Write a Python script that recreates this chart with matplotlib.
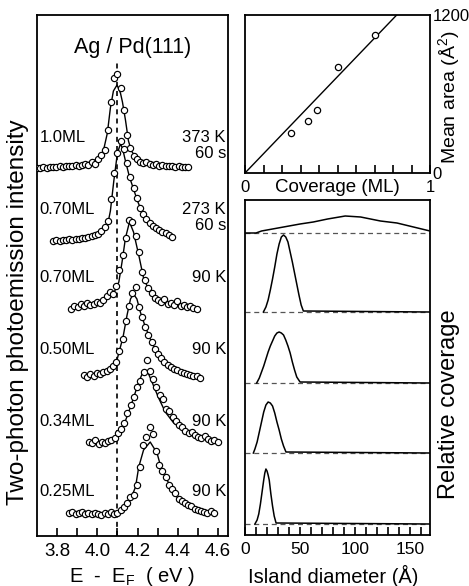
import numpy as np
import matplotlib.pyplot as plt

plt.rcParams['font.family'] = ['Liberation Sans', 'DejaVu Sans']
plt.rcParams['mathtext.fontset'] = 'custom'
plt.rcParams['mathtext.rm'] = 'Liberation Sans'
plt.rcParams['mathtext.it'] = 'Liberation Sans:italic'

# ---- 2PPE spectra (energy in eV, intensity in arb. units above each baseline)
e1 = [3.700, 3.716, 3.732, 3.748, 3.764, 3.780, 3.796, 3.812, 3.828, 3.844, 3.860, 3.876,
      3.892, 3.908, 3.924, 3.940, 3.956, 3.972, 3.988, 4.004, 4.020, 4.036, 4.052, 4.068,
      4.084, 4.100, 4.116, 4.132, 4.148, 4.164, 4.180, 4.196, 4.212, 4.228, 4.244, 4.260,
      4.276, 4.292, 4.308, 4.324, 4.340, 4.356, 4.372, 4.388, 4.404, 4.420, 4.436, 4.452]
i1 = [0, 0, 1, 0, 1, 1, 1, 2, 1, 2, 2, 2, 3, 2, 3, 4, 3, 6, 4, 9, 13, 18, 38, 66,
      90, 94, 80, 58, 33, 20, 12, 9, 6, 5, 6, 4, 3, 4, 2, 3, 2, 2, 2, 1, 2, 1, 1, 1]
fe1 = [3.70, 3.80, 3.90, 3.95, 4.00, 4.03, 4.05, 4.065, 4.08, 4.098, 4.115, 4.125, 4.14,
       4.155, 4.17, 4.19, 4.23, 4.30, 4.37, 4.46]
fi1 = [0, 1, 3, 5, 9, 17, 35, 60, 77, 83, 75, 66, 48, 27, 17, 11, 5, 3, 2, 1]

e2 = [3.780, 3.796, 3.812, 3.828, 3.844, 3.860, 3.876, 3.892, 3.908, 3.924, 3.940, 3.956,
      3.972, 3.988, 4.004, 4.020, 4.036, 4.052, 4.068, 4.084, 4.100, 4.116, 4.132, 4.148,
      4.164, 4.180, 4.196, 4.212, 4.228, 4.244, 4.260, 4.276, 4.292, 4.308, 4.324, 4.340,
      4.356, 4.372]
i2 = [0, 1, 0, 1, 1, 2, 1, 2, 2, 3, 3, 4, 5, 6, 7, 10, 14, 20, 42, 68, 88, 100, 92, 78,
      64, 53, 43, 33, 27, 22, 18, 15, 13, 11, 9, 8, 6, 4]
fe2 = [3.78, 3.87, 3.95, 4.00, 4.03, 4.05, 4.065, 4.082, 4.10, 4.115, 4.125, 4.14, 4.16,
       4.18, 4.20, 4.214, 4.25, 4.30, 4.36, 4.38]
fi2 = [0, 2, 4, 7, 11, 15, 30, 60, 88, 97, 93, 80, 64, 52, 40, 33, 21, 12, 5, 4]

e3 = [3.870, 3.886, 3.902, 3.918, 3.934, 3.950, 3.966, 3.982, 3.998, 4.014, 4.030, 4.046,
      4.062, 4.078, 4.094, 4.110, 4.126, 4.142, 4.158, 4.174, 4.190, 4.206, 4.222, 4.238,
      4.254, 4.270, 4.286, 4.302, 4.318, 4.334, 4.350, 4.366, 4.382, 4.398, 4.414, 4.430,
      4.446, 4.462, 4.478, 4.494]
i3 = [1, 4, 3, 6, 4, 7, 5, 6, 8, 7, 10, 14, 18, 16, 24, 40, 55, 72, 90, 88, 74, 58, 38, 30,
      22, 17, 12, 10, 8, 11, 6, 7, 5, 9, 4, 5, 3, 4, 2, 1]
fe3 = [3.867, 3.95, 4.033, 4.082, 4.107, 4.123, 4.14, 4.16, 4.18, 4.206, 4.23, 4.263,
       4.313, 4.396, 4.495]
fi3 = [0, 5, 10, 17, 28, 48, 72, 88, 78, 55, 32, 17, 8, 5, 0]

e4 = [3.934, 3.950, 3.966, 3.982, 3.998, 4.014, 4.030, 4.046, 4.062, 4.078, 4.094, 4.110,
      4.126, 4.142, 4.158, 4.174, 4.190, 4.206, 4.222, 4.238, 4.254, 4.270, 4.286, 4.302,
      4.318, 4.334, 4.350, 4.366, 4.382, 4.398, 4.414, 4.430, 4.446, 4.462, 4.478, 4.494,
      4.510]
i4 = [4, 2, 5, 3, 6, 5, 7, 8, 10, 13, 17, 28, 40, 58, 73, 86, 92, 72, 62, 52, 44, 37, 30,
      25, 21, 17, 14, 12, 10, 9, 7, 6, 5, 4, 3, 3, 1]
fe4 = [3.934, 4.033, 4.082, 4.095, 4.107, 4.128, 4.148, 4.165, 4.18, 4.197, 4.214, 4.239,
       4.272, 4.305, 4.346, 4.396, 4.461, 4.52]
fi4 = [3, 7, 14, 17, 26, 42, 64, 80, 85, 80, 67, 52, 36, 24, 14, 9, 4, 1]

e5 = [3.958, 3.974, 3.990, 4.006, 4.022, 4.038, 4.054, 4.070, 4.086, 4.102, 4.118, 4.134,
      4.150, 4.166, 4.182, 4.198, 4.214, 4.230, 4.246, 4.262, 4.278, 4.294, 4.310, 4.326,
      4.342, 4.358, 4.374, 4.390, 4.406, 4.422, 4.438, 4.454, 4.470, 4.486, 4.502, 4.518,
      4.534, 4.550, 4.566, 4.582, 4.598]
i5 = [3, 2, 5, 1, 3, 2, 4, 5, 7, 12, 16, 22, 32, 40, 48, 58, 64, 73, 85, 74, 66, 58, 50,
      46, 36, 34, 28, 24, 20, 18, 14, 12, 13, 10, 8, 7, 9, 6, 4, 5, 3]
fe5 = [3.958, 4.05, 4.082, 4.107, 4.132, 4.156, 4.18, 4.206, 4.225, 4.239, 4.255, 4.272,
       4.305, 4.338, 4.38, 4.445, 4.528, 4.61]
fi5 = [2, 4, 7, 12, 20, 33, 47, 63, 72, 75, 71, 63, 47, 33, 22, 13, 7, 2]

e6 = [3.860, 3.876, 3.892, 3.908, 3.924, 3.940, 3.956, 3.972, 3.988, 4.004, 4.020, 4.036,
      4.052, 4.068, 4.084, 4.100, 4.116, 4.132, 4.148, 4.164, 4.180, 4.196, 4.212, 4.228,
      4.244, 4.260, 4.276, 4.292, 4.308, 4.324, 4.340, 4.356, 4.372, 4.388, 4.404, 4.420,
      4.436, 4.452, 4.468, 4.484, 4.500, 4.516, 4.532, 4.548, 4.564, 4.580]
i6 = [2, 3, 1, 2, 3, 1, 2, 1, 2, 1, 0, 2, 1, 3, 1, 2, 5, 8, 12, 18, 20, 30, 48, 70, 78,
      88, 81, 64, 50, 44, 38, 30, 26, 22, 16, 14, 12, 10, 9, 6, 5, 4, 3, 2, 4, 2]
fe6 = [3.86, 4.00, 4.10, 4.132, 4.164, 4.19, 4.206, 4.23, 4.263, 4.297, 4.32, 4.355,
       4.396, 4.445, 4.528, 4.594]
fi6 = [1, 0, 2, 7, 15, 28, 48, 65, 73, 62, 45, 32, 18, 10, 4, 1]

energies = [e1, e2, e3, e4, e5, e6]
intens = [i1, i2, i3, i4, i5, i6]
fit_e = [fe1, fe2, fe3, fe4, fe5, fe6]
fit_i = [fi1, fi2, fi3, fi4, fi5, fi6]
offsets = [368, 295, 226, 157, 91, 21]
coverage_labels = ['1.0ML', '0.70ML', '0.70ML', '0.50ML', '0.34ML', '0.25ML']
temp_labels = ['373 K', '273 K', '90 K', '90 K', '90 K', '90 K']
time_labels = ['60 s', '60 s', '', '', '', '']
label_y = [399, 326, 258, 186, 114, 44]

# ---- mean island area vs coverage
cov = [0.25, 0.34, 0.39, 0.50, 0.70]
area = [301, 397, 476, 807, 1050]
fit_cov = [0.0, 0.82]
fit_area = [0, 1200]

# ---- island size distributions (diameter in A, relative coverage)
d1 = [0, 10, 15, 30, 50, 62, 75, 91, 105, 123, 138, 168]
c1 = [0, 0, 2, 5, 9, 11, 14, 17, 16, 12, 10, 2]
d2 = [16.7, 19, 21, 23, 25, 27, 29, 31, 33, 35, 37, 39, 41, 43, 45, 47, 49, 51, 53, 168]
c2 = [0, 5, 12, 22, 33, 45, 58, 68, 75, 77, 75, 70, 60, 50, 39, 28, 17, 7, 1, 0]
d3 = [10.6, 13, 15, 17, 19, 21, 23, 25, 27, 29, 31, 33, 35, 37, 39, 41, 43, 45, 47, 50, 168]
c3 = [0, 5, 11, 17, 24, 31, 37, 42, 47, 50, 51, 50, 48, 43, 37, 30, 21, 13, 6, 1, 0]
d4 = [7.6, 9, 11, 13, 15, 17, 19, 21, 23, 25, 27, 29, 31, 33, 35, 37.2, 168]
c4 = [0, 4, 11, 21, 31, 41, 48, 51, 50, 47, 40, 31, 23, 14, 7, 1, 0]
d5 = [9, 11, 12.5, 14, 15.5, 17, 18, 19, 20, 21, 22, 23.5, 25, 26.5, 28.2, 168]
c5 = [0, 4, 10, 20, 32, 44, 51, 55, 53, 49, 44, 30, 18, 8, 1, 0]
diam = [d1, d2, d3, d4, d5]
rel = [c1, c2, c3, c4, c5]
dist_offsets = [302, 223, 152, 82, 11]

W, H = 469, 586
fig = plt.figure(figsize=(W / 100, H / 100), dpi=100)


def box(x0, y0, x1, y1):
    # pixel box (top-left origin) -> figure axes
    return fig.add_axes([x0 / W, 1 - y1 / H, (x1 - x0) / W, (y1 - y0) / H])


# ---------- left panel: spectra
ax = box(37, 15, 228, 536)
for e, i, fe, fi, off in zip(energies, intens, fit_e, fit_i, offsets):
    ax.plot(fe, np.array(fi) + off, color='black', lw=1.0, zorder=2)
    ax.plot(e, np.array(i) + off, 'o', ms=4.5, mfc='white', mec='black', mew=0.85, zorder=3)
ax.plot([4.10, 4.10], [0, 474], color='black', lw=1.2, ls=(0, (3, 2.5)), zorder=1)
for cl, tl, sl, y in zip(coverage_labels, temp_labels, time_labels, label_y):
    ax.text(3.712, y, cl, fontsize=12, ha='left', va='center')
    ax.text(4.64, y, tl, fontsize=12, ha='right', va='center')
    if sl:
        ax.text(4.64, y - 16, sl, fontsize=12, ha='right', va='center')
ax.text(4.175, 489, 'Ag / Pd(111)', fontsize=15.5, ha='center', va='center')
ax.set_xlim(3.70, 4.65)
ax.set_ylim(0, 521)
ax.set_xticks([3.8, 4.0, 4.2, 4.4, 4.6])
ax.set_xticks(np.arange(3.8, 4.61, 0.1), minor=True)
ax.set_xticklabels(['3.8', '4.0', '4.2', '4.4', '4.6'], fontsize=13.5)
ax.tick_params(axis='x', which='both', direction='in', length=6, width=1.2, pad=5)
ax.set_yticks([])
for s in ax.spines.values():
    s.set_linewidth(1.3)

# ---------- right top: mean area
ax2 = box(245, 15, 430, 173)
ax2.plot(fit_cov, fit_area, color='black', lw=1.0)
ax2.plot(cov, area, 'o', ms=4.5, mfc='white', mec='black', mew=0.9)
ax2.set_xlim(0, 1)
ax2.set_ylim(0, 1200)
ax2.set_xticks(np.arange(0, 1.01, 0.1))
ax2.set_xticklabels(['0'] + [''] * 9 + ['1'], fontsize=12)
ax2.tick_params(axis='x', direction='in', length=6, width=1.2, pad=5)
ax2.yaxis.tick_right()
ax2.set_yticks([0, 1200])
ax2.set_yticklabels(['0', '1200'], fontsize=12)
ax2.tick_params(axis='y', length=0, pad=2)
for s in ax2.spines.values():
    s.set_linewidth(1.3)

# ---------- right bottom: size distributions
ax3 = box(245, 200, 430, 535)
for d, c, off in zip(diam, rel, dist_offsets):
    ax3.plot([0, 168], [off, off], color='#555555', lw=0.9, ls=(0, (4, 3)))
    ax3.plot(d, np.array(c) + off, color='black', lw=1.1)
ax3.set_xlim(0, 168)
ax3.set_ylim(0, 335)
ax3.set_xticks([0, 50, 100, 150])
ax3.set_xticks(np.arange(0, 168, 10), minor=True)
ax3.set_xticklabels(['0', '50', '100', '150'], fontsize=12.5)
ax3.tick_params(axis='x', which='both', direction='in', length=6, width=1.2, pad=5)
ax3.set_yticks([])
for s in ax3.spines.values():
    s.set_linewidth(1.3)

# ---------- outer labels
fig.text(18 / W, 1 - 312 / H, 'Two-photon photoemission intensity', rotation=90,
         fontsize=17.5, ha='center', va='center')
fig.text(132 / W, 1 - 576 / H, 'E  -  E$_{\\mathrm{F}}$  ( eV )', fontsize=14.5,
         ha='center', va='center')
fig.text(333 / W, 1 - 576 / H, 'Island diameter (Å)', fontsize=14.5, ha='center', va='center')
fig.text(337 / W, 1 - 187 / H, 'Coverage (ML)', fontsize=13.5, ha='center', va='center')
fig.text(449 / W, 1 - 97 / H, 'Mean area (Å$^2$)', rotation=90, fontsize=14,
         ha='center', va='center')
fig.text(449 / W, 1 - 404 / H, 'Relative coverage', rotation=90, fontsize=17,
         ha='center', va='center')

fig.savefig('out.png', dpi=100)
